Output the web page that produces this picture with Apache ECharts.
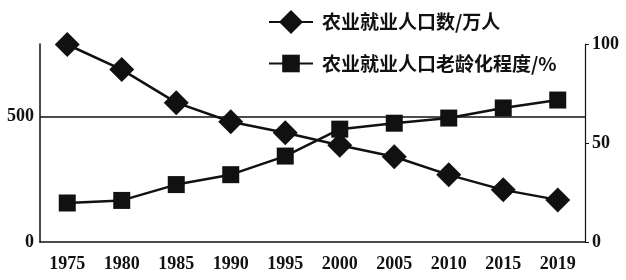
<!DOCTYPE html>
<html><head><meta charset="utf-8">
<script src="https://cdn.jsdelivr.net/npm/echarts@6/dist/echarts.min.js"></script>
<style>html,body{margin:0;padding:0;background:#fff}#c{width:626px;height:280px}</style>
</head><body><div id="c"></div>
<script>
const years = ['1975','1980','1985','1990','1995','2000','2005','2010','2015','2019'];
const farmWorkers = [788, 688, 556, 480, 436, 386, 340, 268, 208, 168];
const agingRate = [19.7, 21, 29, 34, 43.4, 57, 60, 62.6, 67.7, 71.7];
const leftTicks = [0, 500];
const rightTicks = [0, 50, 100];
const refLine = 500;
const seriesNames = ['农业就业人口数/万人', '农业就业人口老龄化程度/%'];

const chart = echarts.init(document.getElementById('c'));
const serifFont = '"Liberation Serif", "DejaVu Serif", serif';
const legendText = { fontSize: 19, color: '#111', fontFamily: '"Noto Sans CJK SC"', fontWeight: 'bold', padding: [0,0,0,4] };
chart.setOption({
  animation: false,
  backgroundColor: '#fff',
  grid: { left: 40, right: 41, top: 44, bottom: 38 },
  legend: [
    { left: 263, top: 5, itemWidth: 44, itemHeight: 30, textStyle: legendText, data: [seriesNames[0]] },
    { left: 263, top: 49, itemWidth: 44, itemHeight: 22, textStyle: legendText, data: [seriesNames[1]] }
  ],
  xAxis: {
    type: 'category', data: years, boundaryGap: true,
    axisLine: { lineStyle: { color: '#111', width: 1.5 } },
    axisTick: { show: false },
    axisLabel: { fontSize: 18, color: '#111', fontFamily: serifFont, fontWeight: 'bold', margin: 13, interval: 0 }
  },
  yAxis: [
    {
      type: 'value', min: 0, max: 790, interval: 500,
      axisLine: { show: true, lineStyle: { color: '#111', width: 1.5 } },
      axisTick: { show: false },
      splitLine: { show: false },
      axisLabel: { fontSize: 18, color: '#111', fontFamily: serifFont, fontWeight: 'bold', margin: 6,
        formatter: v => leftTicks.includes(v) ? String(v) : '' }
    },
    {
      type: 'value', min: 0, max: 100, interval: 50,
      axisLine: { show: true, lineStyle: { color: '#111', width: 1.2 } },
      axisTick: { show: true, length: 4, lineStyle: { color: '#111' } },
      splitLine: { show: false },
      axisLabel: { fontSize: 18, color: '#111', fontFamily: serifFont, fontWeight: 'bold', margin: 7,
        formatter: v => rightTicks.includes(v) ? String(v) : '' }
    }
  ],
  series: [
    {
      name: seriesNames[0], type: 'line', yAxisIndex: 0, data: farmWorkers,
      symbol: 'diamond', symbolSize: 25,
      itemStyle: { color: '#111' }, lineStyle: { color: '#111', width: 2.5 },
      markLine: { silent: true, symbol: 'none', label: { show: false },
        lineStyle: { color: '#111', width: 1.5, type: 'solid' }, data: [{ yAxis: refLine }] }
    },
    {
      name: seriesNames[1], type: 'line', yAxisIndex: 1, data: agingRate,
      symbol: 'rect', symbolSize: 17,
      itemStyle: { color: '#111' }, lineStyle: { color: '#111', width: 2.5 }
    }
  ]
});
</script></body></html>
